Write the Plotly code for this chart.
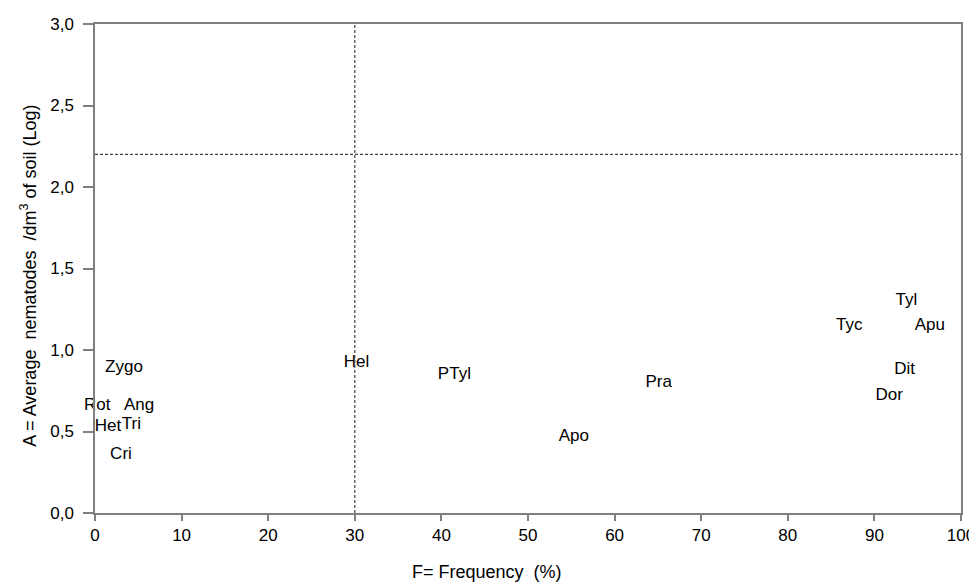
import plotly.graph_objects as go

labels = ["Zygo", "Rot", "Ang", "Het", "Tri", "Cri", "Hel", "PTyl", "Apo", "Pra",
          "Tyc", "Tyl", "Apu", "Dit", "Dor"]
frequency = [3.35, 0.25, 5.1, 1.5, 4.2, 3.0, 30.2, 41.5, 55.3, 65.1,
             87.1, 93.7, 96.4, 93.5, 91.7]
abundance = [0.89, 0.66, 0.66, 0.53, 0.54, 0.36, 0.92, 0.85, 0.47, 0.80,
             1.15, 1.30, 1.15, 0.88, 0.72]

x_ticks = [0, 10, 20, 30, 40, 50, 60, 70, 80, 90, 100]
y_ticks = [0.0, 0.5, 1.0, 1.5, 2.0, 2.5, 3.0]
freq_cut = 30
abund_cut = 2.2

FONT = "Liberation Sans, Arial, sans-serif"

fig = go.Figure()
fig.add_trace(go.Scatter(
    x=frequency, y=abundance, text=labels, mode="text",
    textposition="middle center", cliponaxis=False,
    textfont=dict(family=FONT, size=17, color="black"),
    showlegend=False, hoverinfo="text",
))

fig.add_shape(type="line", x0=freq_cut, x1=freq_cut, y0=0, y1=3,
              xref="x", yref="y", line=dict(color="#444444", width=1.2, dash="3px,2px"))
fig.add_shape(type="line", x0=0, x1=100, y0=abund_cut, y1=abund_cut,
              xref="x", yref="y", line=dict(color="#444444", width=1.2, dash="3px,2px"))

fig.add_annotation(text="F= Frequency  (%)", xref="paper", yref="paper",
                   x=0.4527, y=-0.121, xanchor="center", yanchor="middle",
                   showarrow=False, font=dict(family=FONT, size=18, color="black"))
fig.add_annotation(text="A = Average  nematodes  /dm<sup>3</sup> of soil (Log)",
                   xref="paper", yref="paper", x=-0.0762, y=0.485,
                   xanchor="center", yanchor="middle", textangle=-90,
                   showarrow=False, font=dict(family=FONT, size=18, color="black"))

fig.update_layout(
    width=969, height=587,
    margin=dict(l=95, r=8, t=24, b=74, autoexpand=False),
    paper_bgcolor="white", plot_bgcolor="white",
    separators=", ",
    font=dict(family=FONT, size=17, color="black"),
)
fig.update_xaxes(range=[0, 100], tickvals=x_ticks, showgrid=False, zeroline=False,
                 showline=True, mirror=True, linecolor="#808080", linewidth=1.5,
                 ticks="outside", ticklen=6, tickcolor="#808080", tickwidth=1.5,
                 ticklabeloverflow="allow", automargin=False,
                 tickfont=dict(family=FONT, size=17, color="black"))
fig.update_yaxes(range=[0, 3], tickvals=y_ticks, tickformat=".1f", showgrid=False,
                 zeroline=False, showline=True, mirror=True, linecolor="#808080",
                 linewidth=1.5, ticks="outside", ticklen=10, tickcolor="#808080",
                 tickwidth=1.5, ticklabelstandoff=6, automargin=False,
                 tickfont=dict(family=FONT, size=17, color="black"))

fig.write_html("out.html")
